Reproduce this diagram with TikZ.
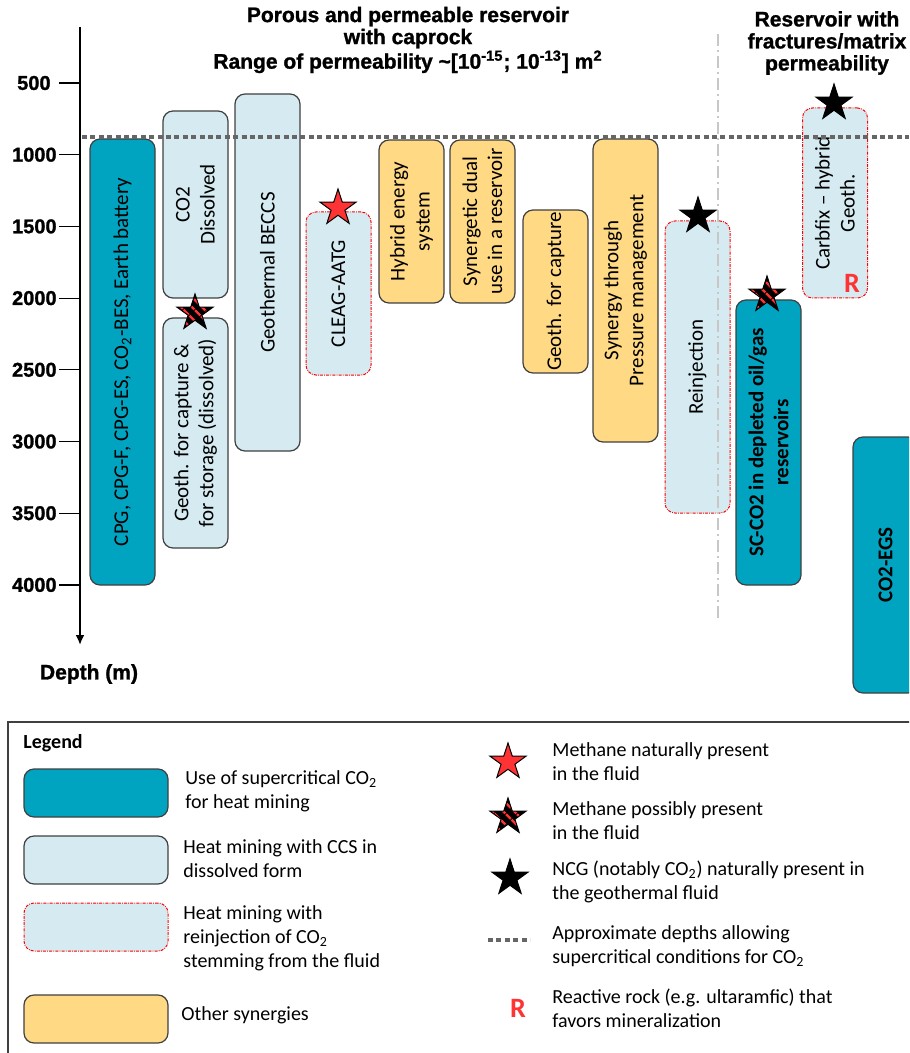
\documentclass[tikz,border=0pt]{standalone}
\usepackage{fontspec}
\setmainfont{Carlito}
\newfontfamily\headfont{Liberation Sans}[BoldFeatures={FakeBold=1.2}]
\usetikzlibrary{shapes.geometric,arrows.meta,patterns.meta}
\definecolor{scteal}{RGB}{0,163,192}
\definecolor{ccsblue}{RGB}{213,235,241}
\definecolor{synyellow}{RGB}{255,217,132}
\definecolor{methred}{RGB}{255,51,51}
\definecolor{framegray}{RGB}{64,64,64}
\tikzset{
  bar/.style={rounded corners=5pt, minimum width=32.5pt, inner sep=0pt, draw=framegray, line width=0.6pt},
  sc bar/.style={bar, fill=scteal},
  ccs bar/.style={bar, fill=ccsblue},
  reinj bar/.style={bar, fill=ccsblue, draw=red, line width=0.5pt, dash pattern=on 1.5pt off 0.6pt on 0.4pt off 0.6pt},
  syn bar/.style={bar, fill=synyellow},
  tall/.style={minimum height=#1*0.5pt},
  swatch/.style={minimum width=72pt, minimum height=24pt},
  bar label/.style={rotate=90, align=center, font=\fontsize{10.5}{12.5}\selectfont},
  sc label/.style={bar label, font=\fontsize{10.5}{12.5}\selectfont\bfseries},
  methane/.style={star, star points=5, star point ratio=2.618, minimum size=19pt, inner sep=0pt, draw=black, line width=0.5pt, fill=methred},
  maybe methane/.style={methane, fill=none, preaction={fill=black}, pattern={Lines[angle=-45, distance=4pt, line width=1.3pt]}, pattern color=methred},
  ncg/.style={methane, fill=black},
  rock/.style={text=methred, inner sep=0pt, font=\bfseries\fontsize{14}{14}\selectfont},
  sc depth/.style={draw=black!60, line width=2pt, dash pattern=on 2.5pt off 1.7pt},
  domain split/.style={draw=black!22, line width=0.8pt, dash pattern=on 6pt off 2pt on 1pt off 2pt},
  depth axis/.style={draw=black, line width=1pt, arrows={-Latex[length=5pt, width=4.5pt]}},
  depth tick/.style={draw=black, line width=0.6pt},
  depth label/.style={anchor=east, inner sep=0pt, font=\headfont\bfseries\fontsize{10}{12}\selectfont},
  heading/.style={align=center, font=\headfont\bfseries\fontsize{10.5}{11}\selectfont},
  legend frame/.style={draw=framegray, line width=1pt, anchor=north west, inner sep=0pt},
  legend text/.style={anchor=west, align=left, inner sep=0pt, font=\fontsize{10}{12}\selectfont}
}

\begin{document}
\begin{tikzpicture}[x=0.5pt, y=-0.5pt]
  \path[use as bounding box, clip] (0,0) rectangle (909,1053);

  % reservoirs with caprock
  \node[sc bar, tall=446] (cpg) at (122.5,362) {};
  \node[bar label] at (cpg) {CPG, CPG-F, CPG-ES, CO\textsubscript{2}-BES, Earth battery};

  \node[ccs bar, tall=187] (dissolved) at (195.5,204.5) {};
  \node[bar label] at (dissolved) {CO2\\Dissolved};

  \node[ccs bar, tall=230] (storage) at (195.5,433) {};
  \node[bar label] at (storage) {Geoth. for capture \&\\for storage (dissolved)};

  \node[ccs bar, tall=357] (beccs) at (267.5,272.5) {};
  \node[bar label] at (beccs) {Geothermal BECCS};

  \node[reinj bar, tall=163] (cleag) at (338.5,293.5) {};
  \node[bar label] at (cleag) {CLEAG-AATG};

  \node[syn bar, tall=163] (hybrid) at (411.5,221.5) {};
  \node[bar label] at (hybrid) {Hybrid energy\\system};

  \node[syn bar, tall=163] (dual) at (482.5,221.5) {};
  \node[bar label] at (dual) {Synergetic dual\\use in a reservoir};

  \node[syn bar, tall=163] (capture) at (555.5,291.5) {};
  \node[bar label] at (capture) {Geoth. for capture};

  \node[syn bar, tall=303] (pressure) at (625.5,290.5) {};
  \node[bar label] at (pressure) {Synergy through\\Pressure management};

  \node[reinj bar, tall=292] (reinjection) at (697.5,367) {};
  \node[bar label] at (reinjection) {Reinjection};

  % fractured reservoirs
  \node[sc bar, tall=285] (depleted) at (768.5,442.5) {};
  \node[sc label] at (depleted) {SC-CO2 in depleted oil/gas\\reservoirs};

  \node[reinj bar, tall=190] (carbfix) at (835,203) {};
  \node[bar label] at (carbfix) {Carbfix -- hybrid\\Geoth.};
  \node[rock] (carbfix rock) at (852,283) {R};

  \node[sc bar, tall=256] (egs) at (885.5,565) {};
  \node[sc label] at (egs) {CO2-EGS};

  % depth axis
  \coordinate (axis top) at (80,27);
  \coordinate (axis end) at (80,645);
  \draw[depth axis] (axis top) -- (axis end);
  \foreach \d/\lx in {500/51,1000/57,1500/57,2000/57,2500/57,3000/57,3500/57,4000/57}{
    \pgfmathsetmacro\ty{83+(\d-500)*0.1434}
    \draw[depth tick] (59,\ty) -- (79,\ty);
    \node[depth label] (tick \d) at (\lx,\ty) {\d};
  }
  \node[heading] (depth title) at (89,674) {Depth (m)};

  % supercritical depth and reservoir split
  \coordinate (sc left) at (82,137);
  \coordinate (sc right) at (909,137);
  \draw[sc depth] (sc left) -- (sc right);
  \coordinate (split top) at (718,34);
  \coordinate (split end) at (718,618);
  \draw[domain split] (split top) -- (split end);

  \node[heading] (porous title) at (408,40) {Porous and permeable reservoir\\with caprock\\Range of permeability \textasciitilde[10\textsuperscript{-15}; 10\textsuperscript{-13}] m\textsuperscript{2}};
  \node[heading] (fracture title) at (827,43) {Reservoir with\\fractures/matrix\\permeability};

  % gases in the fluid
  \node[methane] (cleag star) at (338,208) {};
  \node[maybe methane] (storage star) at (195,313) {};
  \node[ncg] (reinjection star) at (698,216) {};
  \node[maybe methane] (depleted star) at (767,295) {};
  \node[ncg] (carbfix star) at (834,103) {};

  % legend
  \node[legend frame, minimum width=462pt, minimum height=180pt] (legend) at (7,721) {};
  \node[legend text, font=\fontsize{10}{12}\selectfont\bfseries] (legend title) at (23,743) {Legend};

  \node[sc bar, swatch] (key sc) at (96,793) {};
  \node[legend text] at (185,791) {Use of supercritical CO\textsubscript{2}\\for heat mining};
  \node[ccs bar, swatch] (key ccs) at (96,860) {};
  \node[legend text] at (183,859) {Heat mining with CCS in\\dissolved form};
  \node[reinj bar, swatch] (key reinj) at (96,927) {};
  \node[legend text] at (183,938) {Heat mining with\\reinjection of CO\textsubscript{2}\\stemming from the fluid};
  \node[syn bar, swatch] (key syn) at (96,1019) {};
  \node[legend text] at (181,1015) {Other synergies};

  \node[methane] (key methane) at (508,762) {};
  \node[legend text] at (552,762) {Methane naturally present\\in the fluid};
  \node[maybe methane] (key maybe) at (508,817) {};
  \node[legend text] at (552,821) {Methane possibly present\\in the fluid};
  \node[ncg] (key ncg) at (510,878) {};
  \node[legend text] at (552,882) {NCG (notably CO\textsubscript{2}) naturally present in\\the geothermal fluid};
  \coordinate (key sc a) at (488,940);
  \coordinate (key sc b) at (530,940);
  \draw[sc depth] (key sc a) -- (key sc b);
  \node[legend text] at (552,946) {Approximate depths allowing\\supercritical conditions for CO\textsubscript{2}};
  \node[rock] (key rock) at (518,1008) {R};
  \node[legend text] at (552,1008) {Reactive rock (e.g. ultaramfic) that\\favors mineralization};
\end{tikzpicture}
\end{document}
